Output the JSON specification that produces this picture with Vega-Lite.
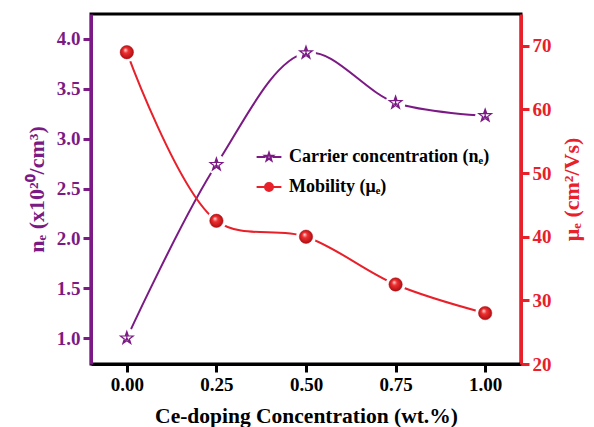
{
  "$schema": "https://vega.github.io/schema/vega-lite/v6.json",
  "width": 430,
  "height": 350,
  "autosize": {"type": "none"},
  "padding": {"left": 91, "top": 14, "right": 73, "bottom": 63},
  "background": "white",
  "config": {
    "font": "Liberation Serif",
    "view": {"stroke": "black", "strokeWidth": 3},
    "axis": {"labelFont": "Liberation Serif", "titleFont": "Liberation Serif", "labelFontWeight": "bold", "titleFontWeight": "bold", "grid": false, "domainWidth": 3, "tickWidth": 3, "tickSize": 8}
  },
  "data": {"values": [
    {"x": 0, "ne": 1.0, "mu": 69},
    {"x": 0.25, "ne": 2.74, "mu": 42.5},
    {"x": 0.5, "ne": 3.86, "mu": 40},
    {"x": 0.75, "ne": 3.36, "mu": 32.5},
    {"x": 1.0, "ne": 3.23, "mu": 28}
  ]},
  "encoding": {
    "x": {"field": "x", "type": "quantitative", "scale": {"domain": [-0.1, 1.1], "nice": false, "zero": false},
      "axis": {"orient": "bottom", "values": [0, 0.25, 0.5, 0.75, 1.0], "format": ".2f", "title": "Ce-doping Concentration (wt.%)", "domainColor": "black", "tickColor": "black", "labelColor": "black", "titleColor": "black", "labelFontSize": 19, "titleFontSize": 21.5, "labelPadding": 3, "titlePadding": 11}}
  },
  "layer": [
    {
      "encoding": {
        "y": {"field": "ne", "type": "quantitative", "scale": {"domain": [0.74, 4.25], "nice": false, "zero": false},
          "axis": {"orient": "left", "values": [1, 1.5, 2, 2.5, 3, 3.5, 4], "format": ".1f", "title": "nₑ (x10²⁰/cm³)", "domainColor": "#7b1a84", "tickColor": "#7b1a84", "labelColor": "#7b1a84", "titleColor": "#7b1a84", "labelFontSize": 19, "titleFontSize": 22, "labelPadding": 3, "titlePadding": 8}}
      },
      "layer": [
        {
          "mark": {"type": "line", "interpolate": "catmull-rom", "strokeWidth": 2},
          "encoding": {
            "color": {"datum": "Carrier concentration (nₑ)", "type": "nominal",
              "scale": {"domain": ["Carrier concentration (nₑ)", "Mobility (μₑ)"], "range": ["#7b1a84", "#e8202a"]},
              "legend": {"orient": "none", "legendX": 169, "legendY": 134, "title": null, "symbolSize": 64, "symbolStrokeWidth": 2, "labelFont": "Liberation Serif", "labelFontWeight": "bold", "labelFontSize": 18, "labelColor": "black", "labelOffset": 11, "rowPadding": 12, "labelLimit": 400,
                "encode": {"symbols": {"update": {
                  "shape": {"signal": "datum.value === 'Mobility (μₑ)' ? 'M-3.1,0H3.1M-1,0A1,1 0 1,0 1,0A1,1 0 1,0 -1,0Z' : 'M-3.1,0H-0.9M0.9,0H3.1M0,-1L0.235,-0.324L0.951,-0.309L0.38,0.124L0.588,0.809L0,0.4L-0.588,0.809L-0.38,0.124L-0.951,-0.309L-0.235,-0.324Z'"},
                  "fill": {"signal": "datum.value === 'Mobility (μₑ)' ? '#e8202a' : 'white'"},
                  "fillOpacity": {"value": 1}
                }}}}}
          }
        },
        {"mark": {"type": "point", "shape": "circle", "filled": true, "color": "white", "opacity": 1, "size": 400}},
        {"mark": {"type": "point", "shape": "M0,-1L0.235,-0.324L0.951,-0.309L0.38,0.124L0.588,0.809L0,0.4L-0.588,0.809L-0.38,0.124L-0.951,-0.309L-0.235,-0.324ZM0,-1V0.4M-0.951,-0.309H0.951M0,0L-0.588,0.809M0,0L0.588,0.809", "filled": true, "color": "white", "stroke": "#7b1a84", "strokeWidth": 1.2, "opacity": 1, "size": 180}}
      ]
    },
    {
      "encoding": {
        "y": {"field": "mu", "type": "quantitative", "scale": {"domain": [20, 75], "nice": false, "zero": false},
          "axis": {"orient": "right", "values": [20, 30, 40, 50, 60, 70], "title": "μₑ (cm²/Vs)", "titleAngle": 270, "titleBaseline": "top", "domainColor": "#e8202a", "tickColor": "#e8202a", "labelColor": "#e8202a", "titleColor": "#e8202a", "labelFontSize": 19, "titleFontSize": 22, "labelPadding": 3, "titlePadding": 10}}
      },
      "layer": [
        {
          "mark": {"type": "line", "interpolate": "catmull-rom", "strokeWidth": 2},
          "encoding": {"color": {"datum": "Mobility (μₑ)", "type": "nominal"}}
        },
        {"mark": {"type": "point", "shape": "circle", "filled": true, "color": "white", "opacity": 1, "size": 400}},
        {"mark": {"type": "point", "shape": "circle", "filled": true, "opacity": 1, "size": 180, "stroke": "#b01015", "strokeWidth": 0.5,
          "color": {"gradient": "radial", "x1": 0.38, "y1": 0.32, "r1": 0, "x2": 0.5, "y2": 0.5, "r2": 0.55,
            "stops": [{"offset": 0, "color": "#ffe0e0"}, {"offset": 0.35, "color": "#f03030"}, {"offset": 1, "color": "#a80a10"}]}}}
      ]
    }
  ],
  "resolve": {"scale": {"y": "independent"}}
}
